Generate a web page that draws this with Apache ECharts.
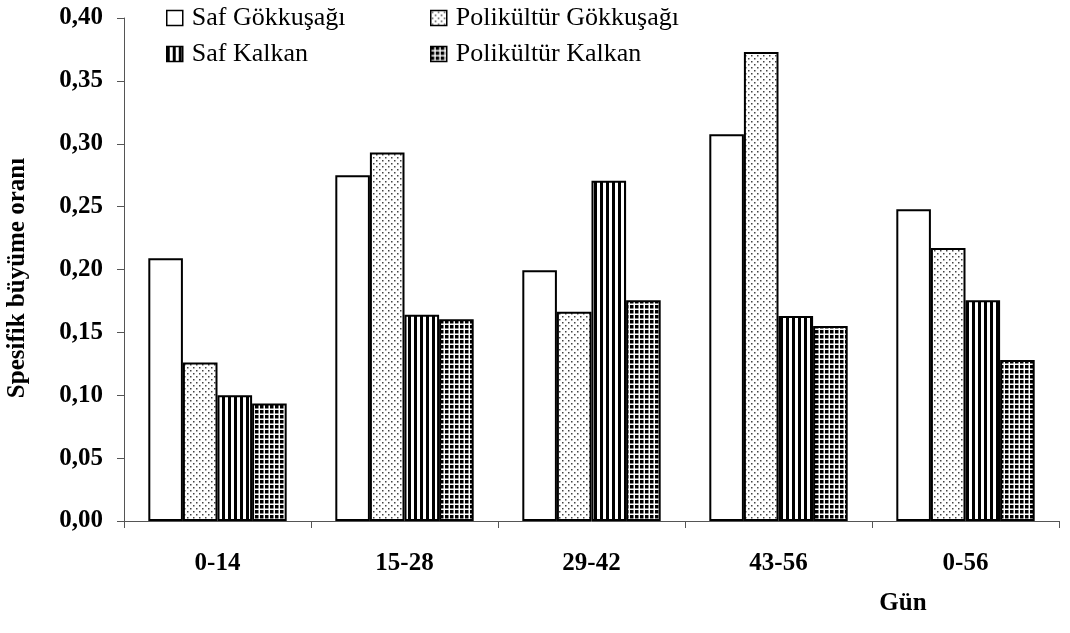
<!DOCTYPE html>
<html>
<head>
<meta charset="utf-8">
<script src="https://cdn.jsdelivr.net/npm/echarts@6/dist/echarts.min.js"></script>
<style>
  html, body { margin: 0; padding: 0; background: #fff; }
  #chart { width: 1070px; height: 633px; }
</style>
</head>
<body>
<div id="chart"></div>
<script>
// ---- data ----
var categories = ['0-14', '15-28', '29-42', '43-56', '0-56'];
var seriesNames = ['Saf Gökkuşağı', 'Polikültür Gökkuşağı', 'Saf Kalkan', 'Polikültür Kalkan'];
var safGokkusagi = [0.209, 0.275, 0.1995, 0.3075, 0.248];
var polikulturGokkusagi = [0.126, 0.293, 0.1665, 0.373, 0.217];
var safKalkan = [0.100, 0.164, 0.2705, 0.163, 0.1755];
var polikulturKalkan = [0.0935, 0.1605, 0.1755, 0.155, 0.128];
var yAxisName = 'Spesifik büyüme oranı';
var xAxisName = 'Gün';

// ---- patterns ----
function makeCanvas(w, h, draw) {
  var c = document.createElement('canvas');
  c.width = w; c.height = h;
  draw(c.getContext('2d'));
  return c;
}
var dotPattern = makeCanvas(6, 6, function (g) {
  g.fillStyle = '#ffffff'; g.fillRect(0, 0, 6, 6);
  g.fillStyle = '#444444';
  g.fillRect(1, 1, 1.5, 1.5);
  g.fillRect(4, 4, 1.5, 1.5);
});
var stripePattern = makeCanvas(6, 4, function (g) {
  g.fillStyle = '#ffffff'; g.fillRect(0, 0, 6, 4);
  g.fillStyle = '#000000'; g.fillRect(0, 0, 3, 4);
});
var gridPattern = makeCanvas(5, 5, function (g) {
  g.fillStyle = '#000000'; g.fillRect(0, 0, 5, 5);
  g.fillStyle = '#ffffff';
  g.fillRect(3.5, 0, 1.5, 5);
  g.fillRect(0, 3.5, 5, 1.5);
});

var fills = [
  '#ffffff',
  { image: dotPattern, repeat: 'repeat' },
  { image: stripePattern, repeat: 'repeat' },
  { image: gridPattern, repeat: 'repeat' }
];
var dataSets = [safGokkusagi, polikulturGokkusagi, safKalkan, polikulturKalkan];

var font = 'Liberation Serif';
var chart = echarts.init(document.getElementById('chart'), null, { renderer: 'canvas' });

var series = seriesNames.map(function (name, i) {
  return {
    name: name,
    type: 'bar',
    data: dataSets[i],
    barGap: '0%',
    barCategoryGap: '26%',
    itemStyle: { color: fills[i], borderColor: '#000', borderWidth: 2 },
    emphasis: { disabled: true },
    animation: false
  };
});

var legendCommon = {
  orient: 'vertical',
  top: 0,
  itemWidth: 16,
  itemHeight: 15,
  itemGap: 10,
  icon: 'rect',
  selectedMode: false,
  itemStyle: { borderColor: '#000', borderWidth: 1.5 },
  textStyle: { fontFamily: font, fontSize: 26, color: '#000', lineHeight: 25, padding: [0, 0, 0, 4] }
};

chart.setOption({
  animation: false,
  backgroundColor: '#fff',
  textStyle: { fontFamily: font },
  grid: { left: 124, right: 11, top: 18, bottom: 112, containLabel: false },
  legend: [
    Object.assign({}, legendCommon, { left: 161, data: [seriesNames[0], seriesNames[2]] }),
    Object.assign({}, legendCommon, { left: 425, data: [seriesNames[1], seriesNames[3]] })
  ],
  xAxis: {
    type: 'category',
    data: categories,
    axisLine: { show: true, lineStyle: { color: '#555', width: 1 } },
    axisTick: { show: true, inside: false, length: 7, lineStyle: { color: '#555' } },
    axisLabel: { fontFamily: font, fontSize: 25, fontWeight: 'bold', color: '#000', margin: 30 },
    splitLine: { show: false }
  },
  yAxis: {
    type: 'value',
    min: 0, max: 0.4, interval: 0.05,
    axisLine: { show: true, lineStyle: { color: '#555', width: 1 } },
    axisTick: { show: true, inside: false, length: 7, lineStyle: { color: '#555' } },
    axisLabel: {
      fontFamily: font, fontSize: 25, fontWeight: 'bold', color: '#000', margin: 21,
      formatter: function (v) { return v.toFixed(2).replace('.', ','); }
    },
    splitLine: { show: false }
  },
  graphic: [
    {
      type: 'text',
      x: 18, y: 278,
      rotation: Math.PI / 2,
      style: {
        text: yAxisName, fontFamily: font, fontSize: 25, fontWeight: 'bold', fill: '#000',
        align: 'center', verticalAlign: 'middle'
      }
    },
    {
      type: 'text',
      x: 903, y: 604,
      style: {
        text: xAxisName, fontFamily: font, fontSize: 25, fontWeight: 'bold', fill: '#000',
        align: 'center', verticalAlign: 'middle'
      }
    }
  ],
  series: series
});
</script>
</body>
</html>
